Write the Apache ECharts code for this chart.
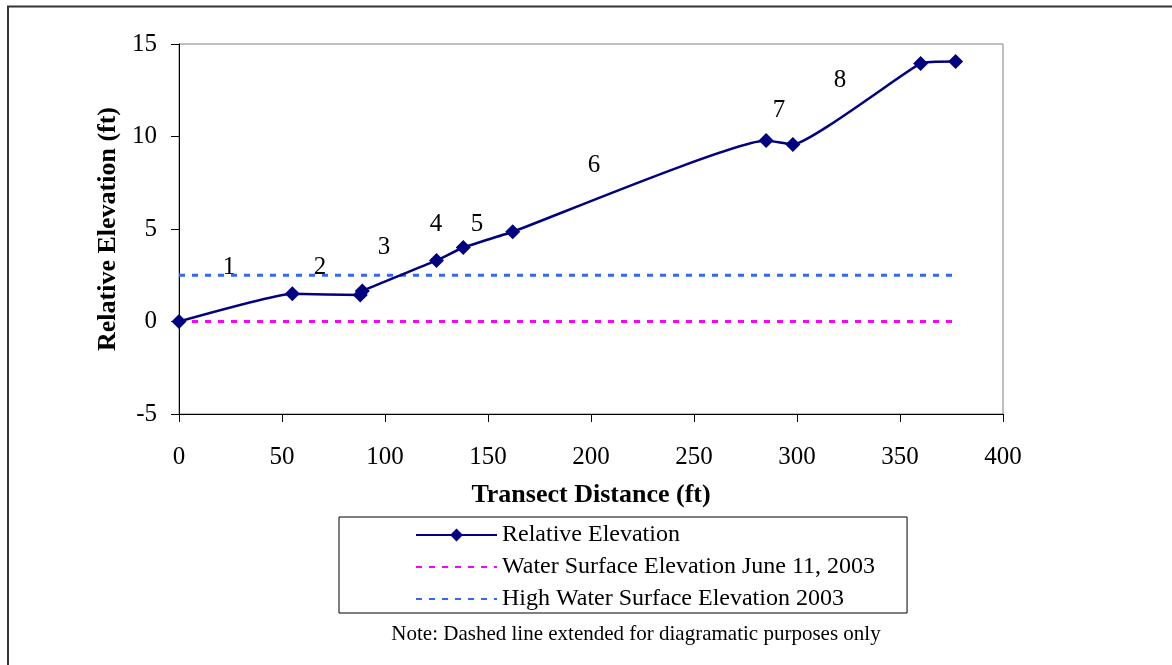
<!DOCTYPE html>
<html>
<head>
<meta charset="utf-8">
<script src="https://cdn.jsdelivr.net/npm/echarts@6/dist/echarts.min.js"></script>
<style>html,body{margin:0;padding:0;background:#fff;}#c{width:1172px;height:665px;}</style>
</head>
<body>
<div id="c"></div>
<script>
const distance = [0, 55, 88, 89, 125, 138, 162, 285, 298, 360, 377];
const elevation = [0, 1.5, 1.43, 1.65, 3.3, 4.0, 4.85, 9.78, 9.57, 13.95, 14.05];
const waterX = [0, 377];
const waterJune = [0, 0];
const highWater = [2.5, 2.5];
const segLabels = ['1', '2', '3', '4', '5', '6', '7', '8'];
const segLabelX = [24.3, 68.4, 99.5, 124.8, 144.7, 201.5, 291.3, 320.9];
const segLabelY = [2.9, 2.9, 4.0, 5.27, 5.27, 8.46, 11.43, 13.05];
const xTicks = [0, 50, 100, 150, 200, 250, 300, 350, 400];
const yTicks = [-5, 0, 5, 10, 15];

const font = 'Liberation Serif, Times New Roman, serif';
const chart = echarts.init(document.getElementById('c'));
chart.setOption({
  animation: false,
  backgroundColor: '#fff',
  grid: {left: 179, right: 169, top: 44, bottom: 251, show: true, borderColor: '#808080', borderWidth: 1},
  xAxis: {
    type: 'value', min: xTicks[0], max: xTicks[xTicks.length - 1], interval: 50,
    name: 'Transect Distance (ft)', nameLocation: 'middle', nameGap: 68,
    nameTextStyle: {fontFamily: font, fontSize: 26, fontWeight: 'bold', color: '#000'},
    axisLine: {show: true, onZero: false, lineStyle: {color: '#000', width: 1}},
    axisTick: {show: true, length: 8, lineStyle: {color: '#000'}},
    axisLabel: {fontFamily: font, fontSize: 25, color: '#000', margin: 31},
    splitLine: {show: false}
  },
  yAxis: {
    type: 'value', min: yTicks[0], max: yTicks[yTicks.length - 1], interval: 5,
    name: 'Relative Elevation (ft)', nameLocation: 'middle', nameGap: 56,
    nameTextStyle: {fontFamily: font, fontSize: 26, fontWeight: 'bold', color: '#000'},
    axisLine: {show: true, onZero: false, lineStyle: {color: '#000', width: 1}},
    axisTick: {show: true, length: 8, lineStyle: {color: '#000'}},
    axisLabel: {fontFamily: font, fontSize: 25, color: '#000', margin: 22},
    splitLine: {show: false}
  },
  legend: {
    orient: 'vertical', left: 339, top: 517,
    padding: [6, 32, 2, 76],
    borderColor: '#000', borderWidth: 1,
    itemWidth: 81, itemHeight: 16, itemGap: 8,
    textStyle: {fontFamily: font, fontSize: 24, color: '#000', lineHeight: 24},
    data: [
      {name: 'Relative Elevation'},
      {name: 'Water Surface Elevation June 11, 2003', itemStyle: {opacity: 0}},
      {name: 'High Water Surface Elevation 2003', itemStyle: {opacity: 0}}
    ]
  },
  graphic: [
    {type: 'rect', shape: {x: 8, y: 6.5, width: 1300, height: 800}, style: {fill: 'none', stroke: '#333', lineWidth: 2}, silent: true, z: 100},
    {type: 'text', x: 636, y: 634, style: {text: 'Note: Dashed line extended for diagramatic purposes only', font: '21px ' + font, fill: '#000', textAlign: 'center', textVerticalAlign: 'middle'}}
  ],
  series: [
    {
      name: 'Water Surface Elevation June 11, 2003', type: 'line',
      data: waterX.map((x, i) => [x, waterJune[i]]),
      symbol: 'none', color: '#FF00FF',
      lineStyle: {color: '#FF00FF', width: 3, type: [6, 7]}
    },
    {
      name: 'High Water Surface Elevation 2003', type: 'line',
      data: waterX.map((x, i) => [x, highWater[i]]),
      symbol: 'none', color: '#3366FF',
      lineStyle: {color: '#3366FF', width: 3, type: [6, 7]}
    },
    {
      name: 'Relative Elevation', type: 'line',
      data: distance.map((x, i) => [x, elevation[i]]),
      smooth: 0.12, symbol: 'diamond', symbolSize: 15, color: '#000080',
      itemStyle: {color: '#000080'},
      lineStyle: {color: '#000080', width: 2.5}, z: 5
    },
    {
      name: 'labels', type: 'scatter', symbol: 'circle', symbolSize: 2, silent: true,
      itemStyle: {color: 'rgba(0,0,0,0)'},
      data: segLabelX.map((x, i) => ({value: [x, segLabelY[i]], name: segLabels[i]})),
      label: {show: true, position: 'inside', formatter: p => p.name, fontFamily: font, fontSize: 25, color: '#000', opacity: 1}
    }
  ]
});
</script>
</body>
</html>
